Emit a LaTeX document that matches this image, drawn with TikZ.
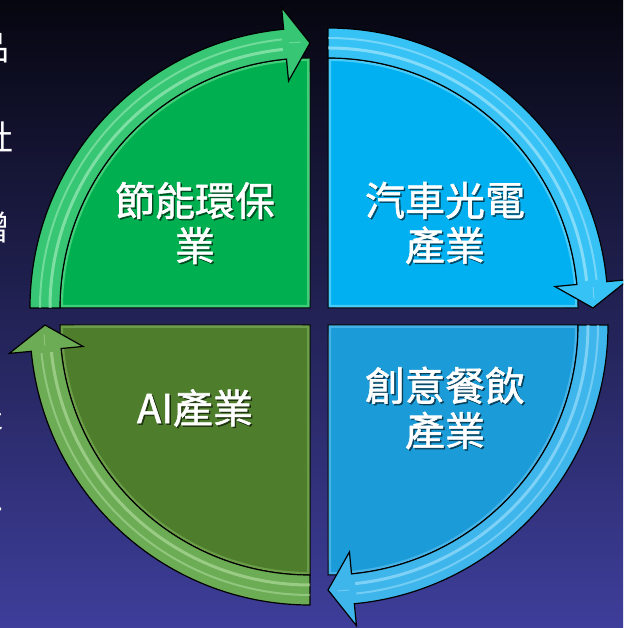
\documentclass[tikz,border=0pt]{standalone}
\usepackage{fontspec}
\newfontfamily\cjk{Noto Sans CJK TC}
\newfontfamily\cjkmed[FakeBold=1.4]{Noto Sans CJK TC}
\definecolor{bgtop}{RGB}{6,6,16}
\definecolor{bgmid}{RGB}{14,22,80}
\definecolor{bgbot}{RGB}{62,62,155}
\definecolor{tlfill}{RGB}{0,176,80}
\definecolor{tllight}{RGB}{80,215,130}
\definecolor{tlband}{RGB}{55,198,115}
\definecolor{tlstripe}{RGB}{185,245,205}
\definecolor{trfill}{RGB}{0,176,240}
\definecolor{trlight}{RGB}{90,210,250}
\definecolor{trband}{RGB}{55,194,245}
\definecolor{trstripe}{RGB}{195,240,255}
\definecolor{brfill}{RGB}{27,156,216}
\definecolor{brlight}{RGB}{80,185,235}
\definecolor{brband}{RGB}{62,182,236}
\definecolor{brstripe}{RGB}{180,232,255}
\definecolor{blfill}{RGB}{78,126,44}
\definecolor{bllight}{RGB}{115,165,80}
\definecolor{blband}{RGB}{108,172,84}
\definecolor{blstripe}{RGB}{190,230,175}
\tikzset{
  lab/.style={font=\cjkmed\fontsize{40}{45}\selectfont, text=white, align=center, inner sep=0pt},
  labshadow/.style={lab, text=black, opacity=.5},
  edgechar/.style={font=\cjk\fontsize{34}{34}\selectfont, text=white, inner sep=0pt, anchor=east},
}
% #1,#2 corner, #3 start angle, #4 fill, #5 light, #6 band, #7 stripe
\newcommand\quadrantarrow[7]{%
\begin{scope}[shift={(#1,#2)}]
  \fill[#4] (0,0) -- (#3:250pt) arc[start angle=#3, end angle=#3-90, radius=250pt] -- cycle;
  \begin{scope}
    \clip (0,0) -- (#3:250pt) arc[start angle=#3, end angle=#3-90, radius=250pt] -- cycle;
    \draw[#5, line width=6pt, opacity=.8] (0,0) -- (#3:250pt) arc[start angle=#3, end angle=#3-90, radius=250pt] -- cycle;
    \draw[#5!60!white, line width=2pt, opacity=.6] ({#3-90}:236pt) -- ({#3-90}:8pt);
  \end{scope}
  \draw[black, line width=1pt] (0,0) -- (#3:250pt) arc[start angle=#3, end angle=#3-90, radius=250pt] -- cycle;
  \filldraw[fill=#6, draw=black, line width=1.2pt, line join=miter]
    (#3:250pt) -- (#3:280pt)
    arc[start angle=#3, end angle=#3-84.6, radius=280pt]
    -- ({#3-84.6}:302pt) -- ({#3-90}:265pt) -- ({#3-84.6}:228pt) -- ({#3-84.6}:250pt)
    arc[start angle=#3-84.6, end angle=#3, radius=250pt] -- cycle;
  \draw[#7, line width=3pt, opacity=.55] (#3:260pt) arc[start angle=#3, end angle=#3-84, radius=260pt];
  \draw[#7, line width=2pt, opacity=.45] (#3:270pt) arc[start angle=#3, end angle=#3-84, radius=270pt];
  \draw[#7, line width=1pt, opacity=.4] ({#3-88}:266pt) -- ({#3-85.5}:266pt);
\end{scope}}
\begin{document}
\begin{tikzpicture}[x=1pt,y=1pt]
\path[use as bounding box] (0,0) rectangle (623,628);
\clip (0,0) rectangle (623,628);
\shade[top color=bgtop, middle color=bgmid, bottom color=bgbot] (0,0) rectangle (623,628);

% partial text at left edge
\node[edgechar] (e1) at (10,580) {品};
\node[edgechar] (e2) at (14,490) {社};
\node[edgechar] (e3) at (10,401) {贈};
\node[edgechar] (e4) at (4,213) {提};
\node[edgechar] (e5) at (4,128) {二};
\node[edgechar] (e6) at (4,33) {目};

\quadrantarrow{310}{320}{180}{tlfill}{tllight}{tlband}{tlstripe}
\quadrantarrow{328}{320}{90}{trfill}{trlight}{trband}{trstripe}
\quadrantarrow{328}{303}{0}{brfill}{brlight}{brband}{brstripe}
\quadrantarrow{310}{303}{270}{blfill}{bllight}{blband}{blstripe}

\node[labshadow] (s1) at (196.5,403.5) {節能環保\\業};
\node[lab] (t1) at (195,405) {節能環保\\業};
\node[labshadow] (s2) at (446.5,403.5) {汽車光電\\產業};
\node[lab] (t2) at (445,405) {汽車光電\\產業};
\node[labshadow] (s3) at (446.5,218.5) {創意餐飲\\產業};
\node[lab] (t3) at (445,220) {創意餐飲\\產業};
\node[labshadow] (s4) at (196.5,218.5) {AI產業};
\node[lab] (t4) at (195,220) {AI產業};
\end{tikzpicture}
\end{document}
